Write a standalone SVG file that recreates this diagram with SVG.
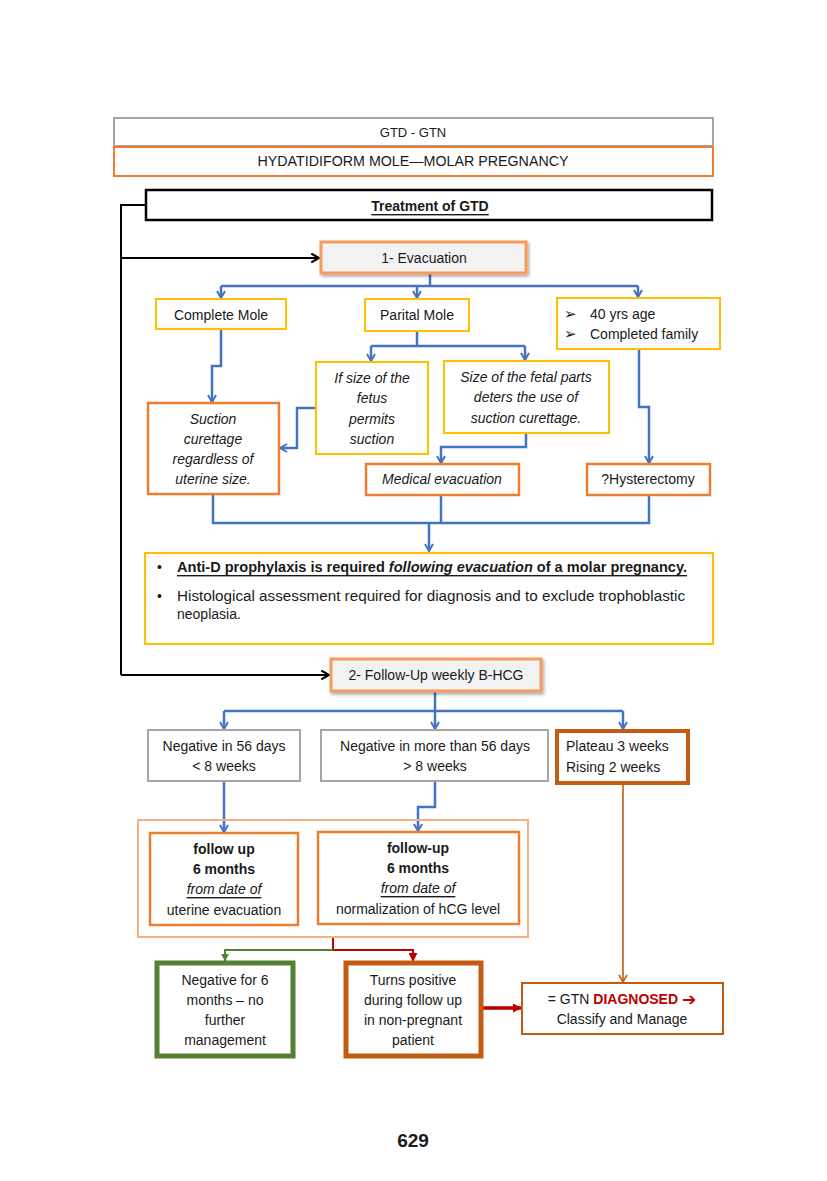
<svg xmlns="http://www.w3.org/2000/svg" width="827" height="1181" viewBox="0 0 827 1181">
<style>
text{font-family:"Liberation Sans",Arial,sans-serif;font-size:14px;fill:#1a1a1a;dominant-baseline:central}
.c{text-anchor:middle}
.i{font-style:italic}
.b{font-weight:bold}
.u{text-decoration:underline}
.box{fill:#fff}
.gray{stroke:#A5A5A5;stroke-width:2}
.yel{stroke:#FFC000;stroke-width:2}
.org{stroke:#ED7D31;stroke-width:2.5}
.blue{fill:none;stroke:#4472C4;stroke-width:2.5}
.blk{fill:none;stroke:#000;stroke-width:2}
.bul{font-family:"DejaVu Sans",sans-serif;font-size:15px}
</style>
<defs>
<marker id="ab" viewBox="0 0 10 10" refX="8" refY="5" markerWidth="10" markerHeight="10" markerUnits="userSpaceOnUse" orient="auto"><path d="M1,1 L8,5 L1,9" fill="none" stroke="#4472C4" stroke-width="2"/></marker>
<marker id="ak" viewBox="0 0 10 10" refX="8" refY="5" markerWidth="11" markerHeight="11" markerUnits="userSpaceOnUse" orient="auto"><path d="M1,1 L8,5 L1,9" fill="none" stroke="#000" stroke-width="2"/></marker>
<marker id="abr" viewBox="0 0 10 10" refX="8" refY="5" markerWidth="10" markerHeight="10" markerUnits="userSpaceOnUse" orient="auto"><path d="M1,1 L8,5 L1,9" fill="none" stroke="#C55A11" stroke-width="1.6"/></marker>
<marker id="ar" viewBox="0 0 10 10" refX="9" refY="5" markerWidth="9" markerHeight="9" markerUnits="userSpaceOnUse" orient="auto"><path d="M0,0 L10,5 L0,10 Z" fill="#C00000"/></marker>
<marker id="ag" viewBox="0 0 10 10" refX="9" refY="5" markerWidth="8" markerHeight="8" markerUnits="userSpaceOnUse" orient="auto"><path d="M0,0 L10,5 L0,10 Z" fill="#548235"/></marker>
<filter id="sh" x="-10%" y="-20%" width="120%" height="150%"><feDropShadow dx="1.5" dy="2" stdDeviation="1.5" flood-color="#000" flood-opacity="0.35"/></filter>
</defs>

<g id="connectors">
<path class="blk" d="M146,205 H121 V675"/>
<path class="blk" d="M121,258 H319" marker-end="url(#ak)"/>
<path class="blk" d="M121,675 H329" marker-end="url(#ak)"/>
<path class="blue" d="M430,273 V286"/>
<path class="blue" d="M221,286 H638"/>
<path class="blue" d="M221,286 V298" marker-end="url(#ab)"/>
<path class="blue" d="M417,286 V298" marker-end="url(#ab)"/>
<path class="blue" d="M638,286 V297" marker-end="url(#ab)"/>
<path class="blue" d="M221,329 V366 H212 V402" marker-end="url(#ab)"/>
<path class="blue" d="M417,331 V346"/>
<path class="blue" d="M371,346 H525"/>
<path class="blue" d="M371,346 V361" marker-end="url(#ab)"/>
<path class="blue" d="M525,346 V360" marker-end="url(#ab)"/>
<path class="blue" d="M315,408 H297 V448 H280" marker-end="url(#ab)"/>
<path class="blue" d="M526,433 V447 H441 V463" marker-end="url(#ab)"/>
<path class="blue" d="M639,349 V407 H649 V463" marker-end="url(#ab)"/>
<path class="blue" d="M213,494 V523 H649 V495"/>
<path class="blue" d="M441,495 V523"/>
<path class="blue" d="M429,523 V551" marker-end="url(#ab)"/>
<path class="blue" d="M435,691 V711"/>
<path class="blue" d="M224,711 H623"/>
<path class="blue" d="M224,711 V729" marker-end="url(#ab)"/>
<path class="blue" d="M435,711 V729" marker-end="url(#ab)"/>
<path class="blue" d="M623,711 V729" marker-end="url(#ab)"/>
<path class="blue" d="M224,781 V832" marker-end="url(#ab)"/>
<path class="blue" d="M435,781 V807 H418 V831" marker-end="url(#ab)"/>
<path d="M623,784 V982" fill="none" stroke="#C55A11" stroke-width="1.6" marker-end="url(#abr)"/>
<path d="M333,937 V950 H413 V961" fill="none" stroke="#C00000" stroke-width="2" marker-end="url(#ar)"/>
<path d="M333,950 H225 V961" fill="none" stroke="#548235" stroke-width="2" marker-end="url(#ag)"/>
<path d="M483,1008 H521" fill="none" stroke="#C00000" stroke-width="3.5" marker-end="url(#ar)"/>
</g>

<g id="gtd-gtn"><rect x="114" y="118" width="599" height="28" class="box gray"/><text x="413" y="132" class="c" style="font-size:13px">GTD - GTN</text></g>
<g id="hydatidiform"><rect x="114" y="147" width="599" height="29" class="box" stroke="#ED7D31" stroke-width="2"/><text x="413" y="161" class="c" textLength="311" lengthAdjust="spacingAndGlyphs">HYDATIDIFORM MOLE—MOLAR PREGNANCY</text></g>
<g id="treatment"><rect x="146" y="190" width="566" height="30" class="box" stroke="#000" stroke-width="2.5"/><text x="430" y="206" class="c b u">Treatment of GTD</text></g>
<g id="evacuation"><rect x="321" y="242" width="205" height="31" fill="#F2F2F2" stroke="#F79A5C" stroke-width="3" filter="url(#sh)"/><text x="424" y="258" class="c">1- Evacuation</text></g>
<g id="complete-mole"><rect x="156" y="299" width="130" height="30" class="box yel"/><text x="221" y="315" class="c">Complete Mole</text></g>
<g id="partial-mole"><rect x="365" y="299" width="104" height="32" class="box yel"/><text x="417" y="315" class="c">Parital Mole</text></g>
<g id="age"><rect x="557" y="298" width="163" height="51" class="box yel"/>
<text x="564" y="314" class="bul">➢</text><text x="590" y="314">40 yrs age</text>
<text x="564" y="334" class="bul">➢</text><text x="590" y="334">Completed family</text></g>
<g id="suction"><rect x="148" y="403" width="131" height="91" class="box org"/>
<text class="c i" x="213" y="419">Suction</text><text class="c i" x="213" y="439">curettage</text><text class="c i" x="213" y="459">regardless of</text><text class="c i" x="213" y="479">uterine size.</text></g>
<g id="if-size"><rect x="316" y="362" width="112" height="92" class="box yel"/>
<text class="c i" x="372" y="378">If size of the</text><text class="c i" x="372" y="398">fetus</text><text class="c i" x="372" y="419">permits</text><text class="c i" x="372" y="439">suction</text></g>
<g id="fetal-parts"><rect x="444" y="361" width="165" height="72" class="box yel"/>
<text class="c i" x="526" y="377">Size of the fetal parts</text><text class="c i" x="526" y="397">deters the use of</text><text class="c i" x="526" y="418">suction curettage.</text></g>
<g id="medical"><rect x="366" y="464" width="153" height="31" class="box org"/><text class="c i" x="442" y="479">Medical evacuation</text></g>
<g id="hysterectomy"><rect x="587" y="464" width="123" height="31" class="box org"/><text class="c" x="648" y="479">?Hysterectomy</text></g>
<g id="anti-d"><rect x="145" y="553" width="568" height="91" class="box yel"/>
<text x="157" y="567">•</text>
<text x="177" y="567" class="b u" textLength="510" lengthAdjust="spacingAndGlyphs">Anti-D prophylaxis is required <tspan class="i">following evacuation</tspan> of a molar pregnancy.</text>
<text x="157" y="596">•</text>
<text x="177" y="596" textLength="508" lengthAdjust="spacingAndGlyphs">Histological assessment required for diagnosis and to exclude trophoblastic</text>
<text x="177" y="614">neoplasia.</text></g>
<g id="follow-up"><rect x="331" y="659" width="210" height="32" fill="#F2F2F2" stroke="#F79A5C" stroke-width="3" filter="url(#sh)"/><text class="c" x="436" y="675">2- Follow-Up weekly B-HCG</text></g>
<g id="neg56"><rect x="148" y="730" width="152" height="51" class="box gray"/><text class="c" x="224" y="746">Negative in 56 days</text><text class="c" x="224" y="766">&lt; 8 weeks</text></g>
<g id="negmore"><rect x="321" y="730" width="227" height="51" class="box gray"/><text class="c" x="435" y="746">Negative in more than 56 days</text><text class="c" x="435" y="766">&gt; 8 weeks</text></g>
<g id="plateau"><rect x="557" y="731" width="131" height="52" class="box" stroke="#C55A11" stroke-width="4"/><text x="566" y="746">Plateau 3 weeks</text><text x="566" y="767">Rising 2 weeks</text></g>
<g id="followup-group"><rect x="138" y="820" width="390" height="117" fill="none" stroke="#F4B183" stroke-width="2"/></g>
<g id="fu1"><rect x="150" y="833" width="148" height="92" class="box org"/>
<text class="c b" x="224" y="849">follow up</text><text class="c b" x="224" y="869">6 months</text><text class="c i u" x="224" y="889">from date of</text><text class="c" x="224" y="910">uterine evacuation</text></g>
<g id="fu2"><rect x="318" y="832" width="201" height="92" class="box org"/>
<text class="c b" x="418" y="848">follow-up</text><text class="c b" x="418" y="868">6 months</text><text class="c i u" x="418" y="888">from date of</text><text class="c" x="418" y="909">normalization of hCG level</text></g>
<g id="negative6"><rect x="157" y="963" width="136" height="93" class="box" stroke="#548235" stroke-width="5"/>
<text class="c" x="225" y="980">Negative for 6</text><text class="c" x="225" y="1000">months – no</text><text class="c" x="225" y="1020">further</text><text class="c" x="225" y="1040">management</text></g>
<g id="turns-positive"><rect x="346" y="963" width="135" height="93" class="box" stroke="#C55A11" stroke-width="5"/>
<text class="c" x="413" y="980">Turns positive</text><text class="c" x="413" y="1000">during follow up</text><text class="c" x="413" y="1020">in non-pregnant</text><text class="c" x="413" y="1040">patient</text></g>
<g id="gtn"><rect x="522" y="983" width="201" height="51" class="box" stroke="#C55A11" stroke-width="2"/>
<text class="c" x="622" y="999">= GTN <tspan class="b" style="fill:#C00000">DIAGNOSED</tspan> <tspan class="b" style="fill:#C00000;font-family:'DejaVu Sans',sans-serif;font-size:17px">➔</tspan></text>
<text class="c" x="622" y="1019">Classify and Manage</text></g>
<text x="413" y="1140" class="c b" style="font-family:'Liberation Sans Narrow','Liberation Sans',sans-serif;font-size:19px">629</text>
</svg>
